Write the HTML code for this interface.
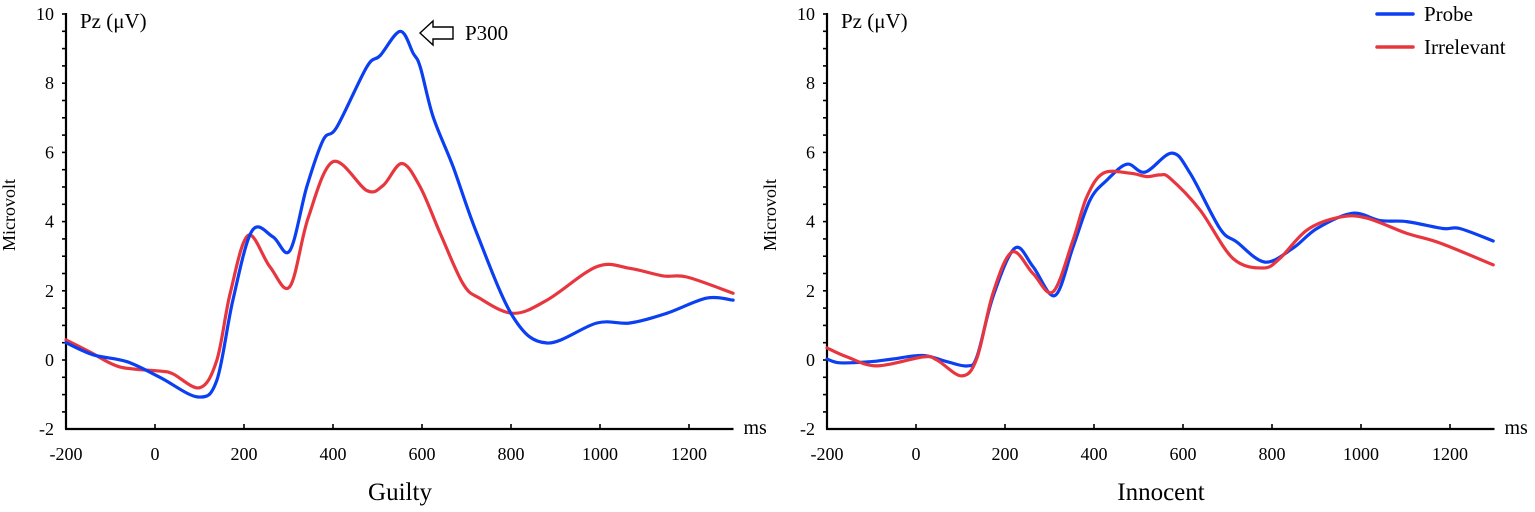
<!DOCTYPE html>
<html><head><meta charset="utf-8">
<style>
html,body{margin:0;padding:0;background:#fff;}
svg{display:block;font-family:"Liberation Serif",serif;}
</style></head>
<body>
<svg id="chart" width="1535" height="512" viewBox="0 0 1535 512" xmlns="http://www.w3.org/2000/svg"></svg>
<script>
const xTicks = [-200, 0, 200, 400, 600, 800, 1000, 1200];
const yTicks = [-2, 0, 2, 4, 6, 8, 10];
const guiltyProbeT = [-200,-139,-63,11,97,139,175,218,265,303,341,378,409,476,506,551,580,596,625,670,723,805,881,993,1067,1150,1240,1299];
const guiltyProbeV = [0.5,0.15,-0.05,-0.5,-1.07,-0.58,1.73,3.73,3.56,3.16,5.0,6.36,6.74,8.47,8.8,9.5,8.87,8.47,7.03,5.58,3.67,1.24,0.49,1.07,1.07,1.35,1.79,1.73];
const guiltyIrrT = [-200,-146,-79,11,40,101,139,169,209,258,303,344,400,476,513,555,596,641,692,730,805,881,993,1067,1142,1195,1299];
const guiltyIrrV = [0.58,0.23,-0.2,-0.32,-0.4,-0.8,0,1.93,3.6,2.7,2.12,4.1,5.73,4.9,5.05,5.68,5.0,3.66,2.21,1.78,1.35,1.73,2.7,2.65,2.43,2.4,1.93];
const innoProbeT = [-200,-171,-103,-52,16,70,115,137,173,222,263,312,353,391,429,474,515,575,616,683,721,784,847,901,980,1043,1103,1184,1222,1297];
const innoProbeV = [0.03,-0.08,-0.05,0.03,0.13,-0.05,-0.17,0.1,1.83,3.23,2.7,1.86,3.27,4.62,5.2,5.66,5.43,5.98,5.4,3.8,3.41,2.83,3.23,3.8,4.24,4.03,4.0,3.8,3.8,3.44];
const innoIrrT = [-200,-155,-88,16,47,103,137,173,216,263,308,353,384,421,481,519,548,571,638,712,780,818,879,953,1013,1103,1178,1297];
const innoIrrV = [0.35,0.09,-0.17,0.09,0,-0.46,0.06,1.93,3.12,2.5,1.97,3.47,4.72,5.4,5.4,5.3,5.35,5.25,4.34,2.94,2.66,2.94,3.76,4.13,4.1,3.66,3.38,2.75];

const NS = "http://www.w3.org/2000/svg";
const svg = document.getElementById('chart');
function mk(tag, attrs, parent){const e=document.createElementNS(NS,tag);for(const k in attrs)e.setAttribute(k,attrs[k]);(parent||svg).appendChild(e);return e;}
const BLUE="#0b3ff2", RED="#e8363f";

function smoothPath(pts){
  let d="M"+pts[0][0].toFixed(1)+","+pts[0][1].toFixed(1);
  for(let i=0;i<pts.length-1;i++){
    const p0=pts[i-1]||pts[i],p1=pts[i],p2=pts[i+1],p3=pts[i+2]||p2;
    const c1x=p1[0]+(p2[0]-p0[0])/6,c1y=p1[1]+(p2[1]-p0[1])/6;
    const c2x=p2[0]-(p3[0]-p1[0])/6,c2y=p2[1]-(p3[1]-p1[1])/6;
    d+=" C"+c1x.toFixed(1)+","+c1y.toFixed(1)+" "+c2x.toFixed(1)+","+c2y.toFixed(1)+" "+p2[0].toFixed(1)+","+p2[1].toFixed(1);
  }
  return d;
}

function panel(ox, name, title, series){
  const g=mk('g',{});
  
  
  const xs=t=>ox+(t+200)*0.445;
  const ys=v=>360-v*34.6;
  const ya=mk('line',{x1:ox,y1:ys(10)-1,x2:ox,y2:ys(-2),stroke:'#000','stroke-width':2.2},g);
  
  
  for(let v=-1.5; v<=10.001; v+=0.5){
    mk('line',{x1:ox-4,y1:ys(v),x2:ox,y2:ys(v),stroke:'#000','stroke-width':1.6},g);
  }
  yTicks.forEach(v=>{
    const t=mk('text',{x:ox-12,y:ys(v)+6,'text-anchor':'end','font-size':18},g);
    t.textContent=v;
    
    
  });
  const xa=mk('line',{x1:ox-1,y1:429,x2:xs(1300),y2:429,stroke:'#000','stroke-width':2.2},g);
  
  
  xTicks.forEach(v=>{
    mk('line',{x1:xs(v),y1:424,x2:xs(v),y2:429,stroke:'#000','stroke-width':1.6},g);
    const t=mk('text',{x:xs(v),y:460,'text-anchor':'middle','font-size':18},g);
    t.textContent=v;
    
    
  });
  const ms=mk('text',{x:xs(1300)+10,y:434,'font-size':20},g);
  ms.textContent='ms';
  
  
  const yl=mk('text',{x:0,y:0,'text-anchor':'middle','font-size':18,transform:'translate('+(ox-51)+',215) rotate(-90)'},g);
  yl.textContent='Microvolt';
  
  
  const pz=mk('text',{x:ox+14,y:28,'font-size':21},g);
  pz.textContent='Pz (\u03BCV)';
  
  
  const tt=mk('text',{x:ox+334,y:500,'text-anchor':'middle','font-size':25},g);
  tt.textContent=title;
  
  
  series.forEach(s=>{
    const pts=s.t.map((t,i)=>[xs(t),ys(s.v[i])]);
    const p=mk('path',{d:smoothPath(pts),fill:'none',stroke:s.c,'stroke-width':3.2,'stroke-linejoin':'round','stroke-linecap':'round'},g);
    
    
  });
}

panel(66,'guilty','Guilty',[
  {t:guiltyIrrT,v:guiltyIrrV,c:RED,n:'irrelevant'},
  {t:guiltyProbeT,v:guiltyProbeV,c:BLUE,n:'probe'}]);
panel(827,'innocent','Innocent',[
  {t:innoProbeT,v:innoProbeV,c:BLUE,n:'probe'},
  {t:innoIrrT,v:innoIrrV,c:RED,n:'irrelevant'}]);

const arrow=mk('path',{d:'M420,33 L433,21 L433,27 L453,27 L453,39 L433,39 L433,45 Z',fill:'#fff',stroke:'#000','stroke-width':1.4});


const p3=mk('text',{x:465,y:40,'font-size':21});
p3.textContent='P300';



const lg=mk('g',{});


[['Probe',BLUE,14],['Irrelevant',RED,47]].forEach(([lab,c,y])=>{
  const l=mk('line',{x1:1377,y1:y,x2:1413,y2:y,stroke:c,'stroke-width':3.5,'stroke-linecap':'round'},lg);
  
  
  const t=mk('text',{x:1424,y:y+7,'font-size':21},lg);
  t.textContent=lab;
  
  
});
</script>
</body></html>
